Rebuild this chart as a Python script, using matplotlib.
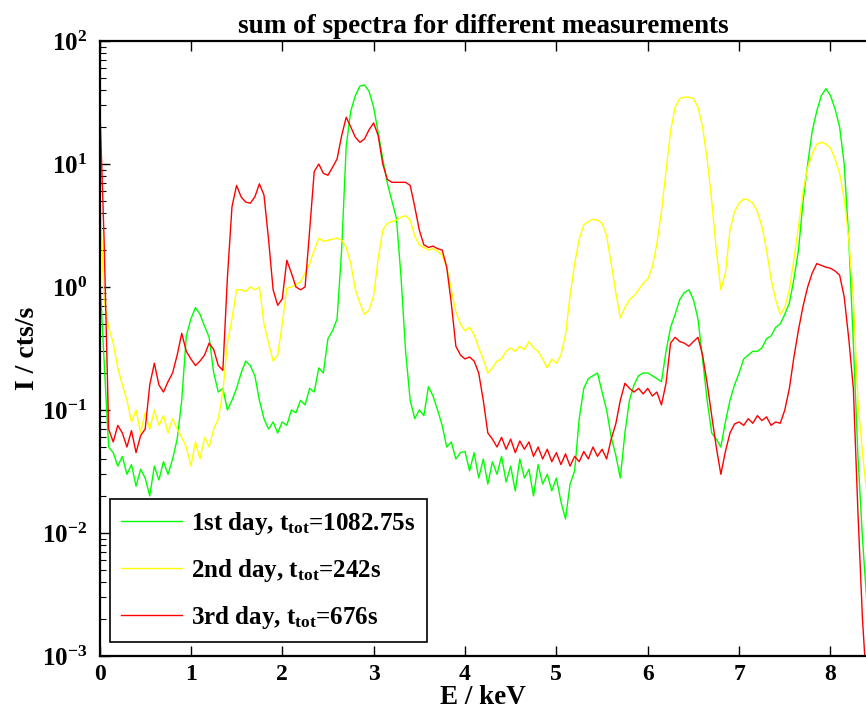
import numpy as np
import matplotlib
matplotlib.use("Agg")
import matplotlib.pyplot as plt

# ---------------- data ----------------
energy = np.round(np.arange(169) * 0.05, 2)   # keV, 0.00 ... 8.40

day1 = [
    1.3, 0.25, 0.05, 0.045, 0.035, 0.042, 0.03, 0.036, 0.024, 0.033,
    0.028, 0.02, 0.035, 0.027, 0.038, 0.03, 0.04, 0.058, 0.12, 0.4,
    0.55, 0.68, 0.6, 0.48, 0.39, 0.2, 0.14, 0.15, 0.1, 0.12,
    0.15, 0.2, 0.25, 0.23, 0.19, 0.12, 0.085, 0.07, 0.08, 0.065,
    0.08, 0.075, 0.1, 0.095, 0.12, 0.11, 0.15, 0.14, 0.22, 0.2,
    0.38, 0.44, 0.55, 2.0, 14, 27, 36, 43, 44, 39,
    29, 18, 11, 7, 5, 3.6, 1.2, 0.3, 0.12, 0.085,
    0.1, 0.09, 0.155, 0.13, 0.1, 0.075, 0.05, 0.055, 0.04, 0.045,
    0.046, 0.032, 0.045, 0.028, 0.04, 0.025, 0.038, 0.03, 0.042, 0.026,
    0.035, 0.022, 0.04, 0.028, 0.033, 0.02, 0.036, 0.025, 0.03, 0.022,
    0.028, 0.018, 0.013, 0.025, 0.032, 0.085, 0.15, 0.18, 0.19, 0.2,
    0.14, 0.1, 0.06, 0.043, 0.028, 0.065, 0.12, 0.16, 0.19, 0.2,
    0.2, 0.19, 0.18, 0.17, 0.3, 0.47, 0.6, 0.79, 0.9, 0.95,
    0.79, 0.55, 0.26, 0.12, 0.065, 0.058, 0.05, 0.08, 0.12, 0.16,
    0.2, 0.26, 0.28, 0.3, 0.3, 0.32, 0.38, 0.4, 0.47, 0.5,
    0.6, 0.74, 1.16, 2.0, 5.0, 10, 18.5, 27, 36, 41,
    36, 28, 20, 10, 2.45, 0.35, 0.043, 0.009, 0.0026]

day2 = [
    7.5, 0.79, 0.47, 0.35, 0.22, 0.16, 0.12, 0.08, 0.1, 0.065,
    0.095, 0.07, 0.1, 0.075, 0.09, 0.065, 0.085, 0.07, 0.06, 0.05,
    0.035, 0.055, 0.04, 0.06, 0.05, 0.07, 0.085, 0.14, 0.35, 0.55,
    0.95, 0.95, 0.92, 1.0, 0.95, 1.0, 0.5, 0.35, 0.25, 0.28,
    0.5, 0.98, 1.0, 1.05, 1.1, 1.3, 1.55, 2.0, 2.5, 2.35,
    2.4, 2.45, 2.5, 2.4, 2.1, 1.55, 0.95, 0.74, 0.6, 0.65,
    0.85, 1.7, 2.9, 3.3, 3.4, 3.5, 3.7, 3.8, 3.5, 2.6,
    2.2, 2.1, 2.0, 2.05, 1.95, 1.8, 1.45, 0.95, 0.63, 0.5,
    0.44, 0.47, 0.41, 0.32, 0.26, 0.2, 0.22, 0.25, 0.26, 0.3,
    0.32, 0.3, 0.33, 0.31, 0.36, 0.32, 0.3, 0.26, 0.22, 0.26,
    0.24, 0.28, 0.41, 0.85, 1.55, 2.45, 3.2, 3.4, 3.55, 3.5,
    3.3, 2.6, 1.55, 0.9, 0.56, 0.68, 0.79, 0.85, 0.95, 1.07,
    1.16, 1.45, 2.25, 4.1, 8.8, 18.5, 29, 34, 35, 35,
    34, 29, 20, 11, 5, 2, 0.95, 1.3, 2.9, 4.1,
    4.8, 5.2, 5.1, 4.8, 4.1, 3.1, 2.0, 1.16, 0.79, 0.6,
    0.68, 0.95, 1.7, 3.1, 6, 9.4, 12, 14.5, 15, 14.5,
    13.5, 11, 8.4, 5.2, 2.45, 0.8, 0.12, 0.045, 0.02]

day3 = [
    36, 2.45, 0.07, 0.055, 0.075, 0.065, 0.05, 0.068, 0.045, 0.062,
    0.07, 0.16, 0.24, 0.16, 0.14, 0.17, 0.2, 0.28, 0.42, 0.3,
    0.26, 0.23, 0.25, 0.28, 0.35, 0.31, 0.23, 0.21, 1.2, 4.5,
    6.7, 5.4, 4.9, 4.8, 5.4, 6.9, 5.6, 2.45, 0.95, 0.71,
    0.8, 1.65, 1.3, 1.0, 0.95, 1.0, 2.9, 8.7, 10, 8.4,
    8.1, 9.4, 11, 17, 24, 20, 16.5, 15, 16, 19,
    21.6, 17, 10, 7.5, 7.1, 7.1, 7.1, 7.1, 6.7, 4.5,
    2.9, 2.2, 2.1, 2.15, 2.05, 2.0, 1.45, 0.74, 0.33, 0.28,
    0.26, 0.27, 0.25, 0.2, 0.12, 0.065, 0.058, 0.05, 0.06, 0.048,
    0.058, 0.045, 0.056, 0.048, 0.055, 0.042, 0.05, 0.04, 0.048, 0.038,
    0.045, 0.036, 0.044, 0.035, 0.042, 0.038, 0.046, 0.04, 0.05, 0.042,
    0.048, 0.04, 0.058, 0.077, 0.12, 0.165, 0.15, 0.14, 0.15, 0.135,
    0.15, 0.13, 0.14, 0.11, 0.165, 0.35, 0.39, 0.36, 0.35, 0.33,
    0.36, 0.39, 0.28, 0.165, 0.09, 0.05, 0.03, 0.046, 0.065, 0.077,
    0.08, 0.075, 0.085, 0.078, 0.09, 0.082, 0.088, 0.075, 0.08, 0.078,
    0.1, 0.15, 0.27, 0.45, 0.7, 1.0, 1.3, 1.55, 1.5, 1.45,
    1.42, 1.35, 1.25, 0.83, 0.38, 0.15, 0.015, 0.002, 0.0005]

labels = [r"1st day, t$_{\mathrm{tot}}$=1082.75s",
          r"2nd day, t$_{\mathrm{tot}}$=242s",
          r"3rd day, t$_{\mathrm{tot}}$=676s"]
colors = ["#00ff00", "#ffff00", "#ff0000"]
x_ticks = [0, 1, 2, 3, 4, 5, 6, 7, 8]

# ---------------- style ----------------
plt.rcParams["font.family"] = ["Liberation Serif", "DejaVu Serif"]
plt.rcParams["font.weight"] = "bold"
plt.rcParams["mathtext.fontset"] = "custom"
plt.rcParams["mathtext.rm"] = "Liberation Serif:bold"
plt.rcParams["mathtext.it"] = "Liberation Serif:bold:italic"
plt.rcParams["mathtext.bf"] = "Liberation Serif:bold"

fig = plt.figure(figsize=(8.66, 7.16), dpi=100)
ax = fig.add_axes([0.1149, 0.0838, 0.8863, 0.8589])

for series, lab, col in zip([day1, day2, day3], labels, colors):
    ax.plot(energy, series, color=col, lw=1.0, label=lab)

ax.set_yscale("log")
ax.set_xlim(0, 8.4)
ax.set_ylim(1e-3, 1e2)
ax.set_xticks(x_ticks)

for s in ax.spines.values():
    s.set_linewidth(1.6)
ax.tick_params(axis="both", which="both", direction="in", top=True, right=False)
ax.tick_params(axis="x", which="minor", top=False, bottom=False)
ax.tick_params(axis="both", which="major", length=7, width=1.0, labelsize=17)
ax.tick_params(axis="y", which="major", labelsize=18)
ax.tick_params(axis="y", which="minor", length=4, width=0.8)
ax.tick_params(axis="x", which="major", pad=6)
ax.tick_params(axis="y", which="major", pad=9)
for lbl in ax.get_xticklabels() + ax.get_yticklabels():
    lbl.set_fontweight("bold")

ax.set_xlabel("E / keV", fontsize=19.5, fontweight="bold", labelpad=0)
ax.set_ylabel("I / cts/s", fontsize=20, fontweight="bold", labelpad=1)
ax.set_title("sum of spectra for different measurements", fontsize=19.5,
             fontweight="bold", pad=6)

leg = ax.legend(loc="lower left", bbox_to_anchor=(0.127, 0.1033),
                bbox_transform=fig.transFigure, borderaxespad=0,
                fontsize=18, handlelength=2.45, handletextpad=0.35,
                labelspacing=0.8, borderpad=0.45, fancybox=False,
                framealpha=1, edgecolor="black")
leg.get_frame().set_linewidth(1.2)
for t in leg.get_texts():
    t.set_fontweight("bold")

fig.savefig("out.png", dpi=100)
